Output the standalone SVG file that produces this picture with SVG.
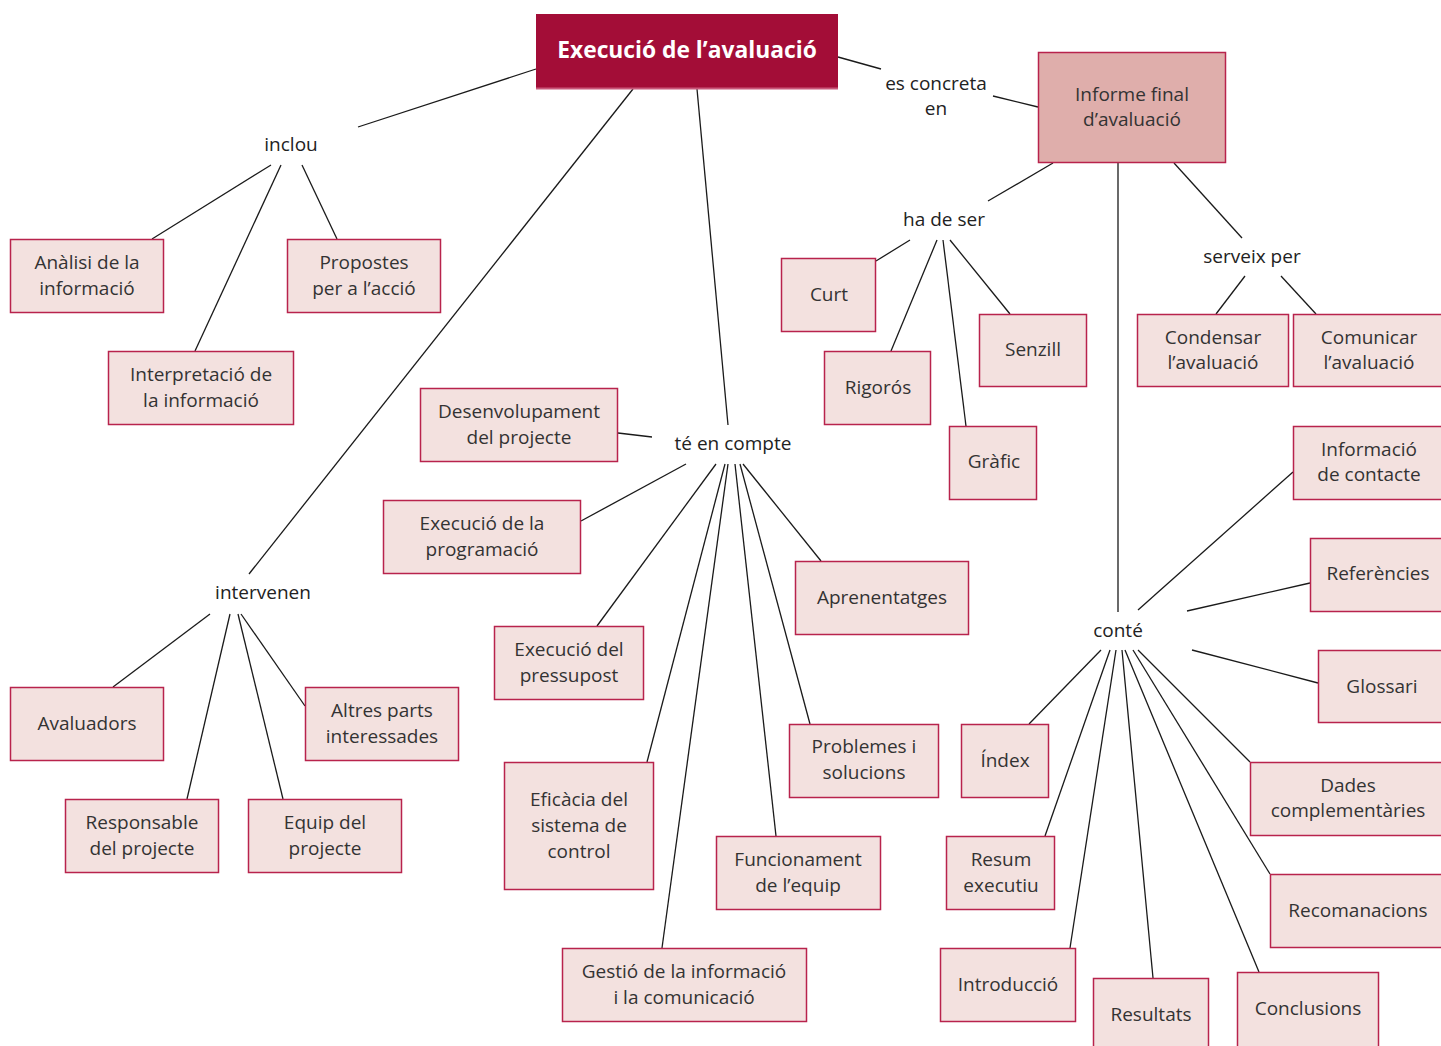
<svg xmlns="http://www.w3.org/2000/svg" width="1441" height="1046" viewBox="0 0 1441 1046">
<style>
.b{fill:#f3e1df;stroke:#b8234c;stroke-width:1.5}
.t{font-family:"Open Sans","Noto Sans","Liberation Sans",sans-serif;font-size:19px;fill:#333;text-anchor:middle}
.l{font-family:"Open Sans","Noto Sans","Liberation Sans",sans-serif;font-size:19px;fill:#222;text-anchor:middle}
#conn line{stroke:#1a1a1a;stroke-width:1.3}
</style>
<rect width="1441" height="1046" fill="#fff"/>
<g id="conn">
<line x1="536" y1="69" x2="358" y2="127"/>
<line x1="271" y1="165" x2="152" y2="239"/>
<line x1="281" y1="165" x2="195" y2="351"/>
<line x1="302" y1="165" x2="337" y2="239"/>
<line x1="633" y1="89" x2="249" y2="574"/>
<line x1="697" y1="89" x2="728" y2="425"/>
<line x1="838" y1="57" x2="881" y2="69"/>
<line x1="993" y1="96" x2="1038" y2="107"/>
<line x1="1053" y1="163" x2="988" y2="201"/>
<line x1="1118" y1="163" x2="1118" y2="612"/>
<line x1="1174" y1="163" x2="1242" y2="238"/>
<line x1="910" y1="240" x2="876" y2="261"/>
<line x1="937" y1="240" x2="891" y2="351"/>
<line x1="943" y1="240" x2="966" y2="426"/>
<line x1="950" y1="240" x2="1010" y2="314"/>
<line x1="1245" y1="276" x2="1216" y2="314"/>
<line x1="1281" y1="276" x2="1316" y2="314"/>
<line x1="618" y1="433" x2="652" y2="437"/>
<line x1="686" y1="464" x2="581" y2="521"/>
<line x1="716" y1="464" x2="597" y2="626"/>
<line x1="725" y1="464" x2="647" y2="762"/>
<line x1="728" y1="464" x2="662" y2="948"/>
<line x1="735" y1="464" x2="776" y2="836"/>
<line x1="740" y1="464" x2="810" y2="724"/>
<line x1="743" y1="464" x2="821" y2="561"/>
<line x1="210" y1="614" x2="113" y2="687"/>
<line x1="230" y1="614" x2="187" y2="799"/>
<line x1="238" y1="614" x2="283" y2="799"/>
<line x1="241" y1="614" x2="305" y2="706"/>
<line x1="1138" y1="610" x2="1293" y2="472"/>
<line x1="1187" y1="611" x2="1310" y2="583"/>
<line x1="1192" y1="650" x2="1318" y2="683"/>
<line x1="1101" y1="650" x2="1029" y2="724"/>
<line x1="1110" y1="650" x2="1045" y2="836"/>
<line x1="1116" y1="650" x2="1070" y2="948"/>
<line x1="1122" y1="650" x2="1153" y2="978"/>
<line x1="1125" y1="650" x2="1259" y2="972"/>
<line x1="1133" y1="650" x2="1270" y2="874"/>
<line x1="1138" y1="650" x2="1250" y2="762"/>
</g>
<g id="labels">
<text class="l" x="291" y="151">inclou</text>
<text class="l" x="936" y="90">es concreta</text>
<text class="l" x="936" y="115">en</text>
<text class="l" x="944" y="226">ha de ser</text>
<text class="l" x="1252" y="263">serveix per</text>
<text class="l" x="733" y="450">té en compte</text>
<text class="l" x="263" y="599">intervenen</text>
<text class="l" x="1118" y="637">conté</text>
</g>
<g id="main">
<rect x="536" y="14" width="302" height="75" fill="#a30d37"/>
<line x1="536" y1="88.5" x2="838" y2="88.5" stroke="#c9587a" stroke-width="2"/>
<text x="687" y="58" font-family="'Open Sans','Noto Sans','Liberation Sans',sans-serif" font-size="22.8" font-weight="bold" fill="#fff" text-anchor="middle">Execució de l’avaluació</text>
</g>
<g id="informe">
<rect x="1038.5" y="52.5" width="187" height="110" fill="#dfaeab" stroke="#b8234c" stroke-width="1.5"/>
<text class="t" x="1132" y="101">Informe final</text>
<text class="t" x="1132" y="126">d’avaluació</text>
</g>
<g id="analisi"><rect class="b" x="10.5" y="239.5" width="153" height="73"/><text class="t" x="87" y="269">Anàlisi de la</text><text class="t" x="87" y="295">informació</text></g>
<g id="propostes"><rect class="b" x="287.5" y="239.5" width="153" height="73"/><text class="t" x="364" y="269">Propostes</text><text class="t" x="364" y="295">per a l’acció</text></g>
<g id="interpretacio"><rect class="b" x="108.5" y="351.5" width="185" height="73"/><text class="t" x="201" y="381">Interpretació de</text><text class="t" x="201" y="407">la informació</text></g>
<g id="desenvolupament"><rect class="b" x="420.5" y="388.5" width="197" height="73"/><text class="t" x="519" y="418">Desenvolupament</text><text class="t" x="519" y="444">del projecte</text></g>
<g id="execprog"><rect class="b" x="383.5" y="500.5" width="197" height="73"/><text class="t" x="482" y="530">Execució de la</text><text class="t" x="482" y="556">programació</text></g>
<g id="execpress"><rect class="b" x="494.5" y="626.5" width="149" height="73"/><text class="t" x="569" y="656">Execució del</text><text class="t" x="569" y="682">pressupost</text></g>
<g id="aprenentatges"><rect class="b" x="795.5" y="561.5" width="173" height="73"/><text class="t" x="882" y="604">Aprenentatges</text></g>
<g id="problemes"><rect class="b" x="789.5" y="724.5" width="149" height="73"/><text class="t" x="864" y="753">Problemes i</text><text class="t" x="864" y="779">solucions</text></g>
<g id="eficacia"><rect class="b" x="504.5" y="762.5" width="149" height="127"/><text class="t" x="579" y="806">Eficàcia del</text><text class="t" x="579" y="832">sistema de</text><text class="t" x="579" y="858">control</text></g>
<g id="funcionament"><rect class="b" x="716.5" y="836.5" width="164" height="73"/><text class="t" x="798" y="866">Funcionament</text><text class="t" x="798" y="892">de l’equip</text></g>
<g id="gestio"><rect class="b" x="562.5" y="948.5" width="244" height="73"/><text class="t" x="684" y="978">Gestió de la informació</text><text class="t" x="684" y="1004">i la comunicació</text></g>
<g id="avaluadors"><rect class="b" x="10.5" y="687.5" width="153" height="73"/><text class="t" x="87" y="730">Avaluadors</text></g>
<g id="altres"><rect class="b" x="305.5" y="687.5" width="153" height="73"/><text class="t" x="382" y="717">Altres parts</text><text class="t" x="382" y="743">interessades</text></g>
<g id="responsable"><rect class="b" x="65.5" y="799.5" width="153" height="73"/><text class="t" x="142" y="829">Responsable</text><text class="t" x="142" y="855">del projecte</text></g>
<g id="equip"><rect class="b" x="248.5" y="799.5" width="153" height="73"/><text class="t" x="325" y="829">Equip del</text><text class="t" x="325" y="855">projecte</text></g>
<g id="curt"><rect class="b" x="781.5" y="258.5" width="94" height="73"/><text class="t" x="829" y="301">Curt</text></g>
<g id="rigoros"><rect class="b" x="824.5" y="351.5" width="106" height="73"/><text class="t" x="878" y="394">Rigorós</text></g>
<g id="senzill"><rect class="b" x="979.5" y="314.5" width="107" height="72"/><text class="t" x="1033" y="356">Senzill</text></g>
<g id="grafic"><rect class="b" x="949.5" y="426.5" width="87" height="73"/><text class="t" x="994" y="468">Gràfic</text></g>
<g id="condensar"><rect class="b" x="1137.5" y="314.5" width="151" height="72"/><text class="t" x="1213" y="344">Condensar</text><text class="t" x="1213" y="369">l’avaluació</text></g>
<g id="comunicar"><rect class="b" x="1293.5" y="314.5" width="150" height="72"/><text class="t" x="1369" y="344">Comunicar</text><text class="t" x="1369" y="369">l’avaluació</text></g>
<g id="contacte"><rect class="b" x="1293.5" y="426.5" width="150" height="73"/><text class="t" x="1369" y="456">Informació</text><text class="t" x="1369" y="481">de contacte</text></g>
<g id="referencies"><rect class="b" x="1310.5" y="538.5" width="133" height="73"/><text class="t" x="1378" y="580">Referències</text></g>
<g id="glossari"><rect class="b" x="1318.5" y="650.5" width="125" height="72"/><text class="t" x="1382" y="693">Glossari</text></g>
<g id="dades"><rect class="b" x="1250.5" y="762.5" width="193" height="73"/><text class="t" x="1348" y="792">Dades</text><text class="t" x="1348" y="817">complementàries</text></g>
<g id="recomanacions"><rect class="b" x="1270.5" y="874.5" width="173" height="73"/><text class="t" x="1358" y="917">Recomanacions</text></g>
<g id="index"><rect class="b" x="961.5" y="724.5" width="87" height="73"/><text class="t" x="1005" y="767">Índex</text></g>
<g id="resum"><rect class="b" x="946.5" y="836.5" width="108" height="73"/><text class="t" x="1001" y="866">Resum</text><text class="t" x="1001" y="892">executiu</text></g>
<g id="introduccio"><rect class="b" x="940.5" y="948.5" width="135" height="73"/><text class="t" x="1008" y="991">Introducció</text></g>
<g id="resultats"><rect class="b" x="1093.5" y="978.5" width="115" height="73"/><text class="t" x="1151" y="1021">Resultats</text></g>
<g id="conclusions"><rect class="b" x="1237.5" y="972.5" width="141" height="80"/><text class="t" x="1308" y="1015">Conclusions</text></g>
</svg>
